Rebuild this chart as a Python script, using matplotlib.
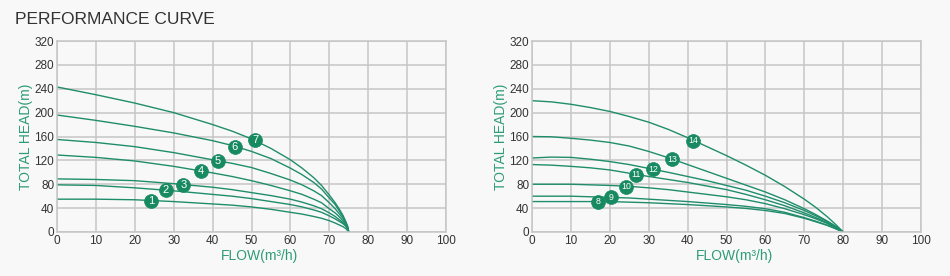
import matplotlib
matplotlib.use("Agg")
import matplotlib.pyplot as plt

plt.rcParams['font.family'] = ['Liberation Sans', 'DejaVu Sans']

# ---- data: left chart (curves 1..7) ----
left_flow = [0, 10, 20, 30, 40, 45, 50, 55, 60, 63, 66, 68, 70, 71.5, 72.5, 73.5, 74.2, 74.7, 75]
left_curves = {
    "7": [243, 230, 216, 200, 180, 169, 156, 140, 121, 107, 91, 78, 62, 49, 39, 28, 18, 10, 0],
    "6": [196, 187, 177, 166, 153, 145, 135, 123, 107, 96, 83, 72, 57, 46, 36, 26, 17, 9, 0],
    "5": [155, 150, 143, 133, 121, 115, 108, 98, 87, 79, 69, 61, 49, 39, 31, 23, 15, 8, 0],
    "4": [129, 125, 119, 110, 99, 93, 86, 78, 69, 63, 55, 49, 39, 32, 26, 19, 13, 7, 0],
    "3": [89, 88, 86, 81, 75, 71, 66, 61, 55, 50, 44, 39, 32, 26, 21, 16, 11, 6, 0],
    "2": [79, 78, 74, 69, 63, 60, 56, 51, 46, 42, 37, 33, 27, 22, 18, 14, 10, 5, 0],
    "1": [55, 55, 54, 51, 47, 45, 42, 38, 33, 30, 26, 23, 19, 15, 12, 9, 6, 2.5, 0],
}
left_marker_x = {"1": 24.2, "2": 28.0, "3": 32.5, "4": 36.9, "5": 41.4, "6": 45.7, "7": 50.9}
left_marker_y = {"1": 52.5, "2": 70, "3": 79.5, "4": 102, "5": 119.5, "6": 142.5, "7": 153.5}

# ---- data: right chart (curves 8..14) ----
right_flow = [0, 5, 10, 15, 20, 25, 30, 35, 40, 45, 50, 55, 60, 65, 70, 73, 76, 78, 80]
right_curves = {
    "14": [220, 218, 214, 208.5, 202, 193.5, 184, 172, 158, 143, 128, 112, 95, 76, 55, 41, 25, 13, 0],
    "13": [160, 159.5, 157, 154, 150, 144, 135, 124.5, 113, 101.5, 90, 78.5, 67, 54, 39, 29, 18, 10, 0],
    "12": [124, 125.5, 125, 122, 118, 113, 106.5, 100, 93, 86, 78, 70, 60, 49, 36, 27, 17, 9, 0],
    "11": [113, 112, 110, 107.5, 104, 98.5, 93, 88, 83, 77, 71, 63, 54, 44, 32, 24, 15, 8, 0],
    "10": [80, 80, 80, 79, 78, 76.5, 74, 71, 67, 63, 59, 54, 47.5, 39, 29, 22, 14, 7, 0],
    "9": [60, 60, 60, 59, 58, 57, 55, 53, 51, 48.5, 46, 43, 39, 33, 24, 18, 11, 6, 0],
    "8": [51, 51, 51, 51, 51, 50, 49, 47.5, 46, 44, 42, 39.5, 36, 31, 23, 17, 11, 5.5, 0],
}
right_marker_x = {"8": 17.0, "9": 20.4, "10": 24.1, "11": 26.8, "12": 31.2, "13": 36.1, "14": 41.5}
right_marker_y = {"8": 51, "9": 58, "10": 76.2, "11": 95.5, "12": 105, "13": 122, "14": 152.5}

x_ticks = [0, 10, 20, 30, 40, 50, 60, 70, 80, 90, 100]
y_ticks = [0, 40, 80, 120, 160, 200, 240, 280, 320]

BG = "#f8f8f8"
GRID = "#c6c6c6"
LINE = "#1f8d6b"
MARK = "#188a62"
LABEL = "#2e9c78"
TICK = "#333333"

fig = plt.figure(figsize=(9.5, 2.76), dpi=100, facecolor=BG)

fig.text(15 / 950, 1 - 20 / 276, "PERFORMANCE CURVE", fontsize=12.5,
         color="#333333", ha="left", va="center")


def draw(ax, flow, curves, mx, my, numsize):
    ax.set_facecolor(BG)
    ax.set_xlim(0, 100)
    ax.set_ylim(0, 320)
    ax.set_xticks(x_ticks)
    ax.set_yticks(y_ticks)
    ax.grid(True, color=GRID, linewidth=1.1)
    ax.set_axisbelow(True)
    for s in ax.spines.values():
        s.set_color(GRID)
        s.set_linewidth(1.1)
    ax.tick_params(length=0, labelsize=8.5, colors=TICK, pad=2)
    for name, vals in curves.items():
        ax.plot(flow, vals, color=LINE, linewidth=1.0, solid_joinstyle="round")
    for name in curves:
        ax.plot(mx[name], my[name], marker="o", markersize=10,
                markerfacecolor=MARK, markeredgecolor=MARK,
                markeredgewidth=0.5, zorder=5)
        ax.text(mx[name], my[name], name, color="white", fontsize=numsize,
                ha="center", va="center", zorder=6)
    ax.set_xlabel("FLOW(m³/h)", color=LABEL, fontsize=10, labelpad=3)
    ax.xaxis.set_label_coords(0.52, -0.09)
    ax.set_ylabel("TOTAL HEAD(m)", color=LABEL, fontsize=10, labelpad=1)


axL = fig.add_axes([57 / 950, 44 / 276, 389 / 950, 191 / 276])
draw(axL, left_flow, left_curves, left_marker_x, left_marker_y, 8)
axR = fig.add_axes([532 / 950, 44 / 276, 389 / 950, 191 / 276])
draw(axR, right_flow, right_curves, right_marker_x, right_marker_y, 6.3)

fig.savefig("out.png", dpi=100, facecolor=BG)
